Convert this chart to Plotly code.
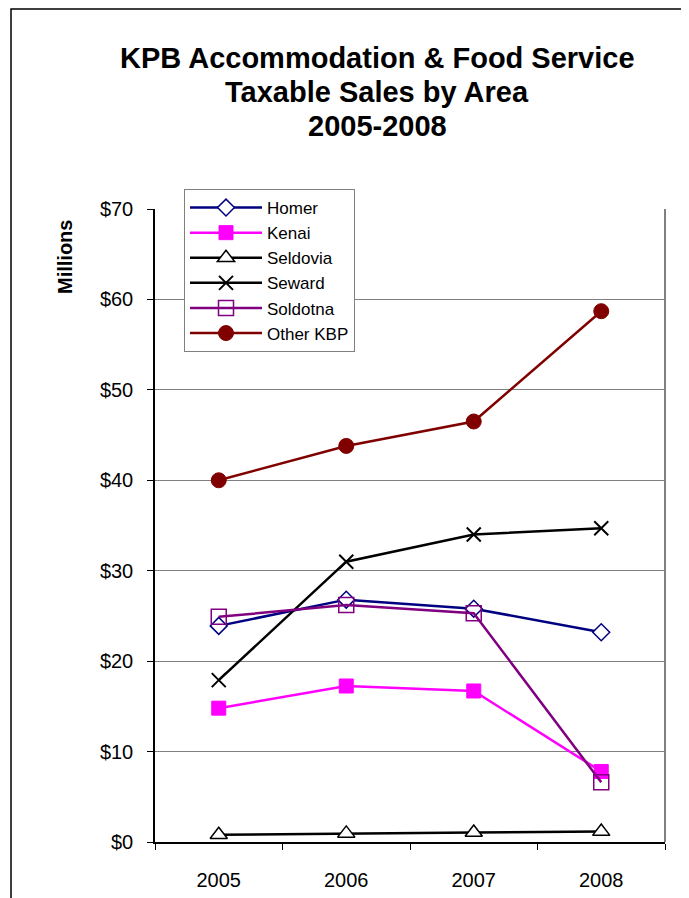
import plotly.graph_objects as go

years = ["2005", "2006", "2007", "2008"]
homer = [23.9, 26.8, 25.8, 23.2]
kenai = [14.8, 17.25, 16.7, 7.8]
seldovia = [0.8, 0.95, 1.05, 1.15]
seward = [17.9, 31.0, 34.0, 34.7]
soldotna = [24.9, 26.2, 25.3, 6.6]
other_kbp = [40.0, 43.8, 46.5, 58.7]

series = [
    ("Homer", homer, "#000080", dict(symbol="diamond", size=13, color="white", line=dict(color="#000080", width=1.5))),
    ("Kenai", kenai, "#FF00FF", dict(symbol="square", size=14, color="#FF00FF", line=dict(color="#FF00FF", width=1))),
    ("Seldovia", seldovia, "#000000", dict(symbol="triangle-up", size=15, color="white", line=dict(color="#000000", width=1.5))),
    ("Seward", seward, "#000000", dict(symbol="x-thin", size=14, color="#000000", line=dict(color="#000000", width=2))),
    ("Soldotna", soldotna, "#800080", dict(symbol="square-open", size=15, color="#800080", line=dict(color="#800080", width=1.5))),
    ("Other KBP", other_kbp, "#800000", dict(symbol="circle", size=15, color="#800000", line=dict(color="#800000", width=1))),
]

# page has an 8px body margin; work in page pixels and convert
OFF = 8
W, H = 689 - OFF, 898 - OFF
L, R, T, B = 155 - OFF, 665 - OFF, 209 - OFF, 842 - OFF

def px_x(x):
    return (x - OFF - L) / (R - L)

def px_y(y):
    return 1 + (T - (y - OFF)) / (B - T)

FONT = "Liberation Sans, Arial, sans-serif"

fig = go.Figure()
for name, vals, col, mk in series:
    fig.add_trace(go.Scatter(
        x=years, y=vals, name=name, mode="lines+markers",
        line=dict(color=col, width=2.5), marker=mk,
    ))

title_lines = ["KPB Accommodation & Food Service", "Taxable Sales by Area", "2005-2008"]
anns = []
for i, t in enumerate(title_lines):
    anns.append(dict(text=f"<b>{t}</b>", x=px_x(377), y=px_y(58 + 34 * i), xref="paper", yref="paper",
                     xanchor="center", yanchor="middle", showarrow=False,
                     font=dict(family=FONT, size=29, color="black")))
anns.append(dict(text="<b>Millions</b>", x=px_x(65), y=px_y(257), xref="paper", yref="paper",
                 xanchor="center", yanchor="middle", showarrow=False, textangle=-90,
                 font=dict(family=FONT, size=20, color="black")))

fig.update_layout(
    width=W, height=H,
    margin=dict(l=L, r=W - R, t=T, b=H - B, autoexpand=False),
    paper_bgcolor="white", plot_bgcolor="white",
    font=dict(family=FONT, color="black", size=20),
    showlegend=True,
    legend=dict(x=px_x(184), y=px_y(189), xanchor="left", yanchor="top",
                bgcolor="white", bordercolor="#808080", borderwidth=1, itemwidth=72,
                font=dict(family=FONT, size=17), traceorder="normal"),
    annotations=anns,
    shapes=[
        dict(type="rect", xref="paper", yref="paper", x0=px_x(11), x1=px_x(687), y0=px_y(905), y1=px_y(9),
             line=dict(color="black", width=1.5), fillcolor="rgba(0,0,0,0)", layer="below"),
        dict(type="line", xref="paper", yref="paper", x0=1, x1=1, y0=0, y1=1,
             line=dict(color="#808080", width=2)),
    ],
)
fig.update_xaxes(type="category", range=[-0.5, 3.5], tickson="boundaries", ticks="outside", ticklen=6,
                 tickcolor="black", showline=True, linecolor="black", linewidth=1.5, showgrid=False,
                 ticklabelstandoff=19, tickfont=dict(size=20), zeroline=False)
fig.update_yaxes(range=[0, 70], dtick=10, tickprefix="$", ticks="outside", ticklen=6, tickcolor="black",
                 showline=True, linecolor="black", linewidth=1.5, showgrid=True, gridcolor="#808080",
                 gridwidth=1, zeroline=False, ticklabelstandoff=10, tickfont=dict(size=20))

fig.write_html("out.html")
